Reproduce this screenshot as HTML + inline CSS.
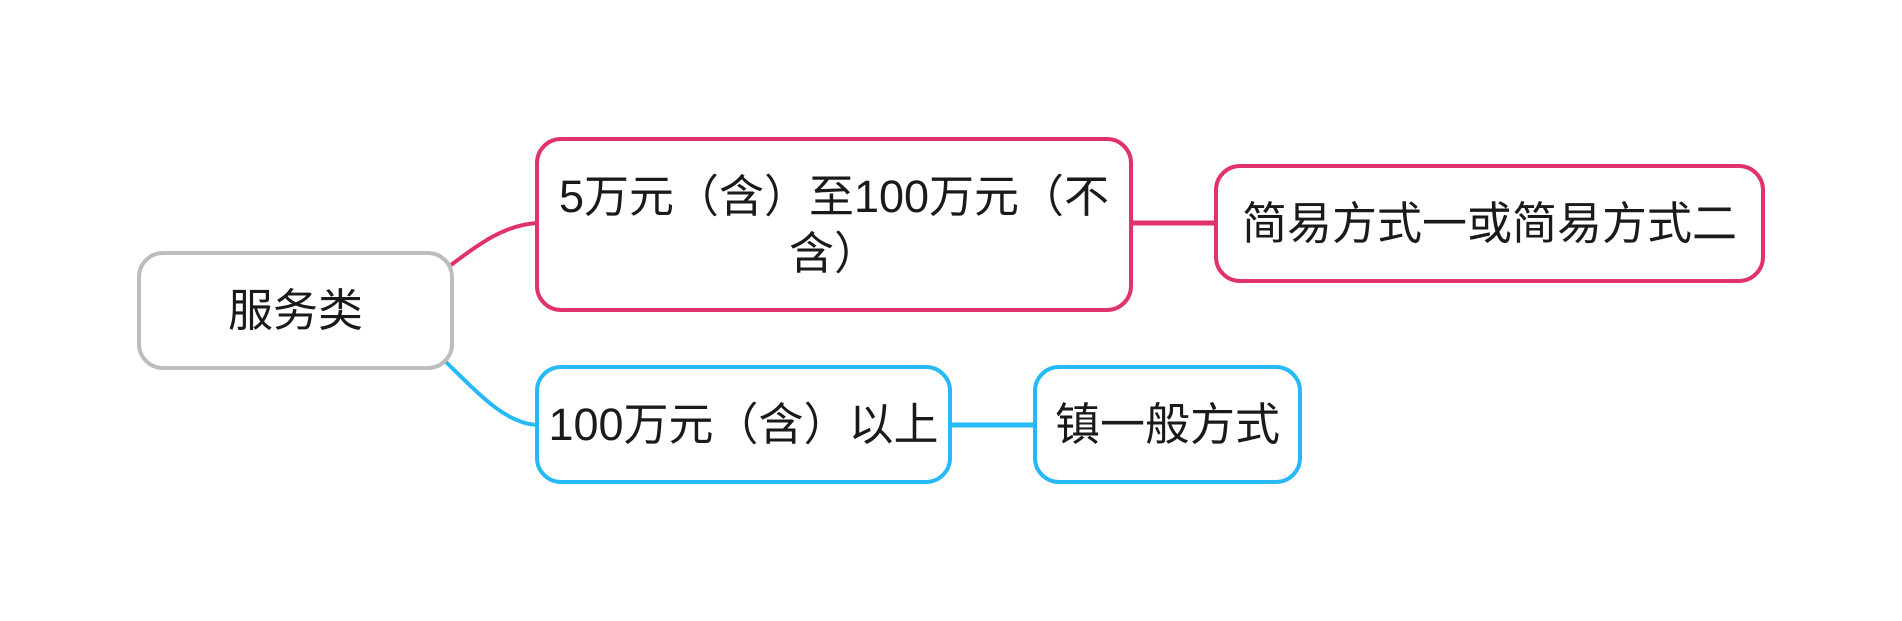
<!DOCTYPE html>
<html><head><meta charset="utf-8"><style>
html,body{margin:0;padding:0;background:#fff;width:1902px;height:621px;overflow:hidden}
.n{position:absolute;box-sizing:border-box;border:4px solid;border-radius:26px;background:#fff;display:flex;align-items:center;justify-content:center;text-align:center;font-family:"Liberation Sans","Noto Sans CJK SC",sans-serif;font-size:45px;line-height:57px;color:#1a1a1a}
.p{border-color:#e0336e}.b{border-color:#27b9f5}.g{border-color:#bdbdbd}
</style></head><body>
<svg width="1902" height="621" style="position:absolute;left:0;top:0">
<path d="M451 265 C480 243 505 225 537 223" stroke="#e0336e" stroke-width="4" fill="none"/>
<path d="M446 362 C480 395 505 423 537 425" stroke="#27b9f5" stroke-width="4" fill="none"/>
<line x1="1131" y1="223" x2="1216" y2="223" stroke="#e0336e" stroke-width="5"/>
<line x1="950" y1="425" x2="1035" y2="425" stroke="#27b9f5" stroke-width="5"/>
</svg>
<div class="n g" style="left:137px;top:251px;width:317px;height:119px">服务类</div>
<div class="n p" style="left:535px;top:137px;width:598px;height:175px">5万元（含）至100万元（不<br>含）</div>
<div class="n p" style="left:1214px;top:164px;width:551px;height:119px">简易方式一或简易方式二</div>
<div class="n b" style="left:535px;top:365px;width:417px;height:119px">100万元（含）以上</div>
<div class="n b" style="left:1033px;top:365px;width:269px;height:119px">镇一般方式</div>
</body></html>
